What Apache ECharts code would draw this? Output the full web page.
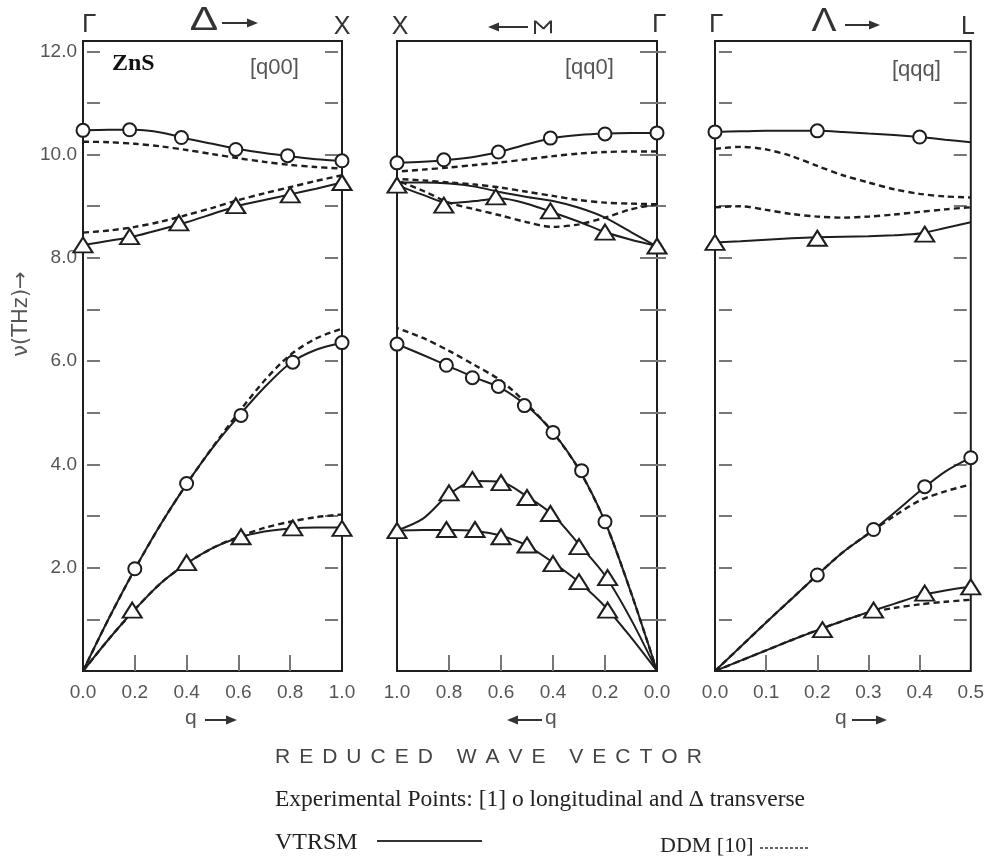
<!DOCTYPE html>
<html>
<head>
<meta charset="utf-8">
<script src="https://cdn.jsdelivr.net/npm/echarts@6/dist/echarts.min.js"></script>
<style>
  html, body { margin: 0; padding: 0; background: #fff; }
  #chart { width: 987px; height: 859px; }
</style>
</head>
<body>
<div id="chart"></div>
<script>
// reduced wave vector grids
const qX = [0, 0.1, 0.2, 0.3, 0.4, 0.5, 0.6, 0.7, 0.8, 0.9, 1.0];
const qL = [0, 0.05, 0.1, 0.15, 0.2, 0.25, 0.3, 0.35, 0.4, 0.45, 0.5];

// [q00]  Gamma -> X
const q00_LO = [10.47, 10.48, 10.48, 10.43, 10.31, 10.21, 10.11, 10.03, 9.97, 9.91, 9.88];
const q00_LO_ddm = [10.25, 10.24, 10.21, 10.16, 10.09, 10.01, 9.93, 9.86, 9.8, 9.76, 9.73];
const q00_TO = [8.25, 8.33, 8.42, 8.55, 8.69, 8.85, 9.01, 9.12, 9.23, 9.34, 9.46];
const q00_TO_ddm = [8.49, 8.53, 8.6, 8.7, 8.83, 8.97, 9.12, 9.25, 9.37, 9.49, 9.6];
const q00_LA = [0, 1.02, 1.97, 2.84, 3.62, 4.32, 4.93, 5.49, 5.96, 6.22, 6.35];
const q00_LA_ddm = [0, 1.02, 1.97, 2.84, 3.62, 4.33, 5.0, 5.62, 6.12, 6.44, 6.63];
const q00_TA = [0, 0.62, 1.19, 1.7, 2.08, 2.38, 2.58, 2.7, 2.76, 2.78, 2.78];
const q00_TA_ddm = [0, 0.62, 1.19, 1.7, 2.08, 2.38, 2.6, 2.77, 2.89, 2.98, 3.03];
const q00_expL_q = [0, 0.18, 0.38, 0.59, 0.79, 1.0, 0.2, 0.4, 0.61, 0.81, 1.0];
const q00_expL_v = [10.47, 10.48, 10.33, 10.1, 9.98, 9.88, 1.98, 3.63, 4.95, 5.98, 6.36];
const q00_expT_q = [0, 0.18, 0.37, 0.59, 0.8, 1.0, 0.19, 0.4, 0.61, 0.81, 1.0];
const q00_expT_v = [8.25, 8.41, 8.68, 9.01, 9.22, 9.46, 1.18, 2.1, 2.6, 2.77, 2.76];

// [qq0]  X <- Sigma <- Gamma
const qq0_LO = [10.42, 10.42, 10.41, 10.38, 10.32, 10.2, 10.06, 9.96, 9.9, 9.86, 9.84];
const qq0_LO_ddm = [10.06, 10.06, 10.05, 10.02, 9.97, 9.91, 9.85, 9.8, 9.75, 9.71, 9.67];
const qq0_TO1 = [8.22, 8.5, 8.78, 8.97, 9.1, 9.18, 9.27, 9.38, 9.44, 9.46, 9.46];
const qq0_TO2 = [8.23, 8.35, 8.5, 8.7, 8.88, 9.05, 9.15, 9.1, 9.06, 9.22, 9.41];
const qq0_TO1_ddm = [9.04, 9.05, 9.07, 9.12, 9.2, 9.28, 9.36, 9.42, 9.46, 9.5, 9.53];
const qq0_TO2_ddm = [9.04, 8.94, 8.78, 8.65, 8.6, 8.69, 8.82, 8.94, 9.07, 9.3, 9.5];
const qq0_LA = [0, 1.52, 2.89, 3.9, 4.62, 5.13, 5.48, 5.68, 5.9, 6.12, 6.33];
const qq0_LA_ddm = [0, 1.52, 2.89, 3.9, 4.62, 5.17, 5.62, 5.92, 6.2, 6.45, 6.64];
const qq0_TA2 = [0, 1.0, 1.85, 2.45, 3.02, 3.38, 3.66, 3.68, 3.42, 2.95, 2.72];
const qq0_TA1 = [0, 0.65, 1.25, 1.72, 2.1, 2.43, 2.62, 2.71, 2.73, 2.73, 2.72];
const qq0_expL_q = [1.0, 0.82, 0.61, 0.41, 0.2, 0, 1.0, 0.81, 0.71, 0.61, 0.51, 0.4, 0.29, 0.2];
const qq0_expL_v = [9.84, 9.9, 10.05, 10.32, 10.4, 10.42, 6.33, 5.92, 5.68, 5.51, 5.14, 4.62, 3.88, 2.89];
const qq0_expT_q = [1.0, 0.82, 0.62, 0.41, 0.2, 0, 0.8, 0.71, 0.6, 0.5, 0.41, 0.3, 0.19,
                    1.0, 0.81, 0.7, 0.6, 0.5, 0.4, 0.3, 0.19];
const qq0_expT_v = [9.41, 9.02, 9.18, 8.91, 8.5, 8.23, 3.45, 3.71, 3.65, 3.36, 3.05, 2.41, 1.81,
                    2.72, 2.74, 2.74, 2.6, 2.44, 2.08, 1.73, 1.18];

// [qqq]  Gamma -> L
const qqq_LO = [10.44, 10.45, 10.46, 10.46, 10.46, 10.44, 10.41, 10.38, 10.34, 10.29, 10.24];
const qqq_LO_ddm = [10.11, 10.15, 10.1, 9.97, 9.78, 9.6, 9.46, 9.33, 9.24, 9.19, 9.17];
const qqq_TO = [8.3, 8.32, 8.35, 8.38, 8.4, 8.41, 8.42, 8.44, 8.47, 8.58, 8.69];
const qqq_TO_ddm = [8.98, 9.0, 8.93, 8.85, 8.8, 8.78, 8.8, 8.84, 8.89, 8.94, 8.98];
const qqq_LA = [0, 0.47, 0.94, 1.4, 1.86, 2.3, 2.66, 3.06, 3.48, 3.86, 4.13];
const qqq_LA_ddm = [0, 0.47, 0.94, 1.4, 1.86, 2.3, 2.66, 3.0, 3.3, 3.48, 3.61];
const qqq_TA = [0, 0.2, 0.4, 0.6, 0.79, 0.97, 1.14, 1.3, 1.46, 1.56, 1.63];
const qqq_TA_ddm = [0, 0.2, 0.4, 0.6, 0.79, 0.97, 1.13, 1.22, 1.29, 1.34, 1.38];
const qqq_expL_q = [0, 0.2, 0.4, 0.2, 0.31, 0.41, 0.5];
const qqq_expL_v = [10.44, 10.46, 10.34, 1.86, 2.74, 3.57, 4.13];
const qqq_expT_q = [0, 0.2, 0.41, 0.21, 0.31, 0.41, 0.5];
const qqq_expT_v = [8.3, 8.38, 8.46, 0.8, 1.18, 1.51, 1.63];

// axis ticks and labels
const xLabels = [
  [0, 0.2, 0.4, 0.6, 0.8, 1.0],
  [0, 0.2, 0.4, 0.6, 0.8, 1.0],
  [0, 0.1, 0.2, 0.3, 0.4, 0.5]
];
const yTicks = [1, 2, 3, 4, 5, 6, 7, 8, 9, 10, 11, 12];
const yLabels = [2, 4, 6, 8, 10, 12];
const yMax = 12.2;

const INK = "#1e1e1e";
const GREY = "#555";
const SANS = '"Liberation Sans", Arial, sans-serif';
const SERIF = '"Liberation Serif", "Times New Roman", serif';

const chart = echarts.init(document.getElementById("chart"));

const curve = (i, qs, vs, dashed) => ({
  type: "line",
  xAxisIndex: i,
  yAxisIndex: 2 * i,
  data: qs.map((q, k) => [q, vs[k]]),
  smooth: 0.3,
  symbol: "none",
  silent: true,
  lineStyle: { color: INK, width: dashed ? 2.4 : 2, type: dashed ? [6, 4] : "solid" },
  z: dashed ? 2 : 3
});
const points = (i, qs, vs, shape) => ({
  type: "scatter",
  xAxisIndex: i,
  yAxisIndex: 2 * i,
  data: qs.map((q, k) => [q, vs[k]]),
  symbol: shape,
  symbolSize: shape === "circle" ? 13 : [19, 15],
  silent: true,
  itemStyle: { color: "#fff", borderColor: INK, borderWidth: 2, opacity: 1 },
  z: 5
});

const grids = [
  { left: 83, top: 41, width: 259, height: 630 },
  { left: 397, top: 41, width: 260, height: 630 },
  { left: 715, top: 41, width: 258, height: 630 }
].map(g => ({ ...g, show: true, borderColor: INK, borderWidth: 2, backgroundColor: "transparent" }));

const tickStyle = { color: "#777", width: 2 };
const xAxes = [0, 1, 2].map(i => ({
  gridIndex: i,
  type: "value",
  min: 0,
  max: xLabels[i][xLabels[i].length - 1],
  inverse: i === 1,
  axisLine: { show: false },
  splitLine: { show: false },
  axisTick: { inside: true, length: 16, lineStyle: tickStyle, customValues: xLabels[i].slice(1, -1) },
  axisLabel: {
    margin: 12,
    color: GREY,
    fontSize: 19,
    fontFamily: SANS,
    customValues: xLabels[i],
    formatter: v => v.toFixed(1)
  }
}));
const yAxes = [];
[0, 1, 2].forEach(i => {
  ["left", "right"].forEach(pos => {
    yAxes.push({
      gridIndex: i,
      type: "value",
      position: pos,
      offset: -4,
      min: 0,
      max: yMax,
      axisLine: { show: false },
      splitLine: { show: false },
      axisTick: { inside: true, length: 13, lineStyle: tickStyle, customValues: yTicks },
      axisLabel: {
        show: i === 0 && pos === "left",
        margin: 10,
        color: GREY,
        fontSize: 19,
        fontFamily: SANS,
        customValues: yLabels,
        formatter: v => v.toFixed(1)
      }
    });
  });
});

const series = [
  curve(0, qX, q00_LO_ddm, true), curve(0, qX, q00_TO_ddm, true),
  curve(0, qX, q00_LA_ddm, true), curve(0, qX, q00_TA_ddm, true),
  curve(0, qX, q00_LO), curve(0, qX, q00_TO), curve(0, qX, q00_LA), curve(0, qX, q00_TA),
  points(0, q00_expL_q, q00_expL_v, "circle"), points(0, q00_expT_q, q00_expT_v, "triangle"),

  curve(1, qX, qq0_LO_ddm, true), curve(1, qX, qq0_TO1_ddm, true),
  curve(1, qX, qq0_TO2_ddm, true), curve(1, qX, qq0_LA_ddm, true),
  curve(1, qX, qq0_LO), curve(1, qX, qq0_TO1), curve(1, qX, qq0_TO2),
  curve(1, qX, qq0_LA), curve(1, qX, qq0_TA2), curve(1, qX, qq0_TA1),
  points(1, qq0_expL_q, qq0_expL_v, "circle"), points(1, qq0_expT_q, qq0_expT_v, "triangle"),

  curve(2, qL, qqq_LO_ddm, true), curve(2, qL, qqq_TO_ddm, true),
  curve(2, qL, qqq_LA_ddm, true), curve(2, qL, qqq_TA_ddm, true),
  curve(2, qL, qqq_LO), curve(2, qL, qqq_TO), curve(2, qL, qqq_LA), curve(2, qL, qqq_TA),
  points(2, qqq_expL_q, qqq_expL_v, "circle"), points(2, qqq_expT_q, qqq_expT_v, "triangle")
];

// --- annotations ---
const text = (x, y, str, font, fill, align, extra) => ({
  type: "text",
  x, y,
  silent: true,
  ...(extra || {}),
  style: { text: str, font, fill: fill || INK, align: align || "left", verticalAlign: "middle" }
});
const arrow = (x1, x2, y, color) => {
  const dir = x2 > x1 ? 1 : -1;
  const head = 11;
  return [
    { type: "line", silent: true, shape: { x1, y1: y, x2: x2 - dir * head, y2: y }, style: { stroke: color, lineWidth: 2 } },
    { type: "polygon", silent: true, shape: { points: [[x2, y], [x2 - dir * head, y - 4.5], [x2 - dir * head, y + 4.5]] }, style: { fill: color } }
  ];
};
// letter-spaced caption
const spaced = (x, y, str, font, fill, gap) => {
  const ctx = document.createElement("canvas").getContext("2d");
  ctx.font = font;
  const out = [];
  let cx = x;
  for (const ch of str) {
    if (ch !== " ") out.push(text(cx, y, ch, font, fill, "left"));
    cx += ctx.measureText(ch).width + gap;
  }
  return out;
};

const sym = "#333";
const graphic = [
  // top symmetry labels
  text(82, 25, "Γ", "26px " + SANS, sym),
  text(204, 21, "Δ", "34px " + SANS, sym, "center", { scaleX: 1.25 }),
  ...arrow(222, 258, 23, sym),
  text(342, 27, "X", "25px " + SANS, sym, "center"),
  text(400, 27, "X", "25px " + SANS, sym, "center"),
  ...arrow(528, 488, 27, sym),
  text(541, 27, "Σ", "26px " + SANS, sym, "center", { rotation: -Math.PI / 2 }),
  text(652, 25, "Γ", "26px " + SANS, sym),
  text(709, 25, "Γ", "26px " + SANS, sym),
  text(824, 22, "Λ", "34px " + SANS, sym, "center", { scaleX: 1.1 }),
  ...arrow(845, 880, 25, sym),
  text(968, 27, "L", "25px " + SANS, sym, "center"),
  // panel captions
  text(112, 64, "ZnS", "bold 24px " + SERIF, "#111"),
  text(250, 68, "[q00]", "22px " + SANS, GREY),
  text(565, 68, "[qq0]", "22px " + SANS, GREY),
  text(892, 70, "[qqq]", "22px " + SANS, GREY),
  // y axis name
  text(22, 314, "ν(THz)→", '21px "DejaVu Sans", sans-serif', GREY, "center", { rotation: Math.PI / 2 }),
  // q arrows under panels
  text(185, 718, "q", "21px " + SANS, GREY),
  ...arrow(205, 237, 720, "#333"),
  ...arrow(542, 507, 720, "#333"),
  text(545, 718, "q", "21px " + SANS, GREY),
  text(835, 718, "q", "21px " + SANS, GREY),
  ...arrow(852, 887, 720, "#333"),
  // footer
  ...spaced(275, 757, "REDUCED WAVE VECTOR", "21px " + SANS, "#444", 9),
  text(275, 800, "Experimental Points: [1] o longitudinal and Δ transverse", "23.5px " + SERIF, "#222"),
  text(275, 843, "VTRSM", "24px " + SERIF, "#222"),
  { type: "line", silent: true, shape: { x1: 377, y1: 841, x2: 482, y2: 841 }, style: { stroke: "#333", lineWidth: 2 } },
  text(660, 846, "DDM [10]", "22px " + SERIF, "#222"),
  { type: "line", silent: true, shape: { x1: 760, y1: 848, x2: 808, y2: 848 }, style: { stroke: "#333", lineWidth: 1.5, lineDash: [3, 2] } }
];

chart.setOption({
  animation: false,
  backgroundColor: "#fff",
  grid: grids,
  xAxis: xAxes,
  yAxis: yAxes,
  series,
  graphic
});
window.addEventListener("resize", chart.resize);
</script>
</body>
</html>
